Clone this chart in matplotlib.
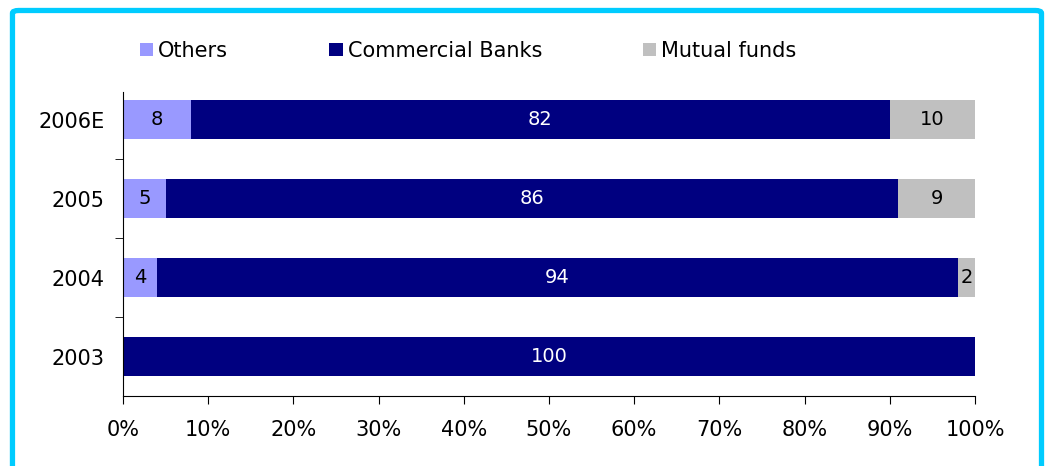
import matplotlib.pyplot as plt
from matplotlib.patches import FancyBboxPatch
import numpy as np

years = ["2006E", "2005", "2004", "2003"]
others = [8, 5, 4, 0]
banks = [82, 86, 94, 100]
funds = [10, 9, 2, 0]

c_others = "#9999FF"
c_banks = "#000080"
c_funds = "#C0C0C0"

plt.rcParams['font.family'] = ['DejaVu Sans']

fig = plt.figure(figsize=(10.48, 4.66), dpi=100)
ax = fig.add_axes([0.1174, 0.1502, 0.8129, 0.6524])

y = np.arange(len(years))[::-1]
others = np.array(others)
banks = np.array(banks)
funds = np.array(funds)

h = 0.49
b1 = ax.barh(y, others, height=h, color=c_others, label="Others")
b2 = ax.barh(y, banks, left=others, height=h, color=c_banks, label="Commercial Banks")
b3 = ax.barh(y, funds, left=others + banks, height=h, color=c_funds, label="Mutual funds")

# segment values, white on the dark bars
for vals, lefts, col in [(others, 0 * others, "black"),
                         (banks, others, "white"),
                         (funds, others + banks, "black")]:
    for yi, v, l in zip(y, vals, lefts):
        if v > 0:
            ax.text(l + v / 2, yi, str(v), ha="center", va="center",
                    color=col, fontsize=14)

ax.set_xlim(0, 100)
ax.set_ylim(-0.5, 3.35)
ax.set_xticks(np.arange(0, 101, 10))
ax.set_xticklabels([f"{v}%" for v in range(0, 101, 10)])
ax.set_yticks(y)
ax.set_yticklabels(years)
ax.set_yticks([0.5, 1.5, 2.5], minor=True)
ax.tick_params(axis="y", which="major", length=0, pad=13, labelsize=15)
ax.tick_params(axis="y", which="minor", length=6, direction="out")
ax.tick_params(axis="x", length=6, direction="out", pad=11, labelsize=15)

for s in ["top", "right"]:
    ax.spines[s].set_visible(False)

fig.legend(handles=[b1, b2, b3], loc="center left", bbox_to_anchor=(0.1336, 0.891),
           ncol=3, frameon=False, fontsize=15, handlelength=0.63, handleheight=0.63,
           handletextpad=0.25, columnspacing=4.85, borderaxespad=0, borderpad=0)

# cyan frame round the chart
frame = FancyBboxPatch((0.0119, -0.05), 0.9819, 1.0275, transform=fig.transFigure,
                       boxstyle="round,pad=0,rounding_size=0.006",
                       fill=False, edgecolor="#00CCFF", linewidth=3.8)
fig.patches.append(frame)

fig.savefig("out.png", dpi=100)
